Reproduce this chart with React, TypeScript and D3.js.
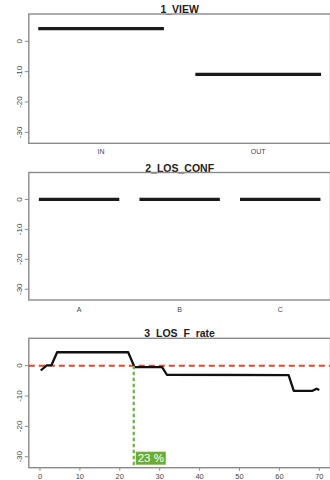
import React from "react";
import * as d3 from "d3";

const viewCategories = ["IN", "OUT"];
const viewValues = [4.2, -10.9];
const confCategories = ["A", "B", "C"];
const confValues = [0, 0, 0];
const rateX = [0.2, 1.7, 2.9, 4.3, 22.1, 23.7, 30.6, 31.8, 62.3, 63.6, 68.3, 69.3, 70.0];
const rateY = [-1.6, 0.1, 0.2, 4.4, 4.4, -0.5, -0.5, -3.0, -3.1, -8.3, -8.3, -7.6, -8.0];
const yTicks = [0, -10, -20, -30];
const rateXTicks = [0, 10, 20, 30, 40, 50, 60, 70];
const thresholdX = 23.5;
const thresholdLabel = "23 %";
const titles = ["1_VIEW", "2_LOS_CONF", "3_LOS_F_rate"];

const FONT = "'Liberation Sans', Arial, sans-serif";
const LEFT = 28.8;
const RIGHT = 330.5;
const Y_DOMAIN: [number, number] = [-33.6, 9];
const AXIS = "#8a8a8a";

function Frame({ top, bottom, title, y }: { top: number; bottom: number; title: string; y: d3.ScaleLinear<number, number> }) {
  return (
    <g>
      <text x={(LEFT + RIGHT) / 2} y={top - 1} textAnchor="middle" fontFamily={FONT} fontWeight="bold" fontSize={10.5} fill="#222">
        {title}
      </text>
      <rect x={LEFT} y={top} width={RIGHT - LEFT} height={bottom - top} fill="none" stroke={AXIS} strokeWidth={1.4} />
      {yTicks.map((t) => (
        <g key={t}>
          <line x1={LEFT - 4} x2={LEFT} y1={y(t)} y2={y(t)} stroke={AXIS} strokeWidth={1} />
          <text
            transform={`translate(${LEFT - 7},${y(t)}) rotate(-90)`}
            textAnchor="middle"
            fontFamily={FONT}
            fontSize={8}
            fill="#444"
          >
            {t}
          </text>
        </g>
      ))}
    </g>
  );
}

export default function App() {
  // Panel 1
  const p1Top = 14, p1Bottom = 143.3;
  const y1 = d3.scaleLinear().domain(Y_DOMAIN).range([p1Bottom, p1Top]);
  const x1 = d3.scaleLinear().domain([0.54, 2.46]).range([LEFT, RIGHT]);

  // Panel 2
  const p2Top = 172.5, p2Bottom = 300;
  const y2 = d3.scaleLinear().domain(Y_DOMAIN).range([p2Bottom, p2Top]);
  const x2 = d3.scaleLinear().domain([0.5, 3.5]).range([LEFT, RIGHT]);

  // Panel 3
  const p3Top = 338.3, p3Bottom = 467.7;
  const y3 = d3.scaleLinear().domain(Y_DOMAIN).range([p3Bottom, p3Top]);
  const x3 = d3.scaleLinear().domain([-2.8, 72.8]).range([LEFT, RIGHT]);
  const line = d3
    .line<number>()
    .x((_, i) => x3(rateX[i]))
    .y((d) => y3(d));
  const tx = x3(thresholdX);

  return (
    <svg width={330} height={480} style={{ position: "absolute", left: 0, top: 0, background: "#fff" }}>
      <rect width={330} height={480} fill="#fff" />
      {/* Panel 1 */}
      <Frame top={p1Top} bottom={p1Bottom} title={titles[0]} y={y1} />
      {viewCategories.map((c, i) => (
        <g key={c}>
          <line x1={x1(i + 1 - 0.4)} x2={x1(i + 1 + 0.4)} y1={y1(viewValues[i])} y2={y1(viewValues[i])} stroke="#1a1a1a" strokeWidth={3.2} />
          <text x={x1(i + 1)} y={p1Bottom + 11} textAnchor="middle" fontFamily={FONT} fontSize={7} fill="#444">
            {c}
          </text>
        </g>
      ))}

      {/* Panel 2 */}
      <Frame top={p2Top} bottom={p2Bottom} title={titles[1]} y={y2} />
      {confCategories.map((c, i) => (
        <g key={c}>
          <line x1={x2(i + 1 - 0.4)} x2={x2(i + 1 + 0.4)} y1={y2(confValues[i])} y2={y2(confValues[i])} stroke="#1a1a1a" strokeWidth={3.2} />
          <text x={x2(i + 1)} y={p2Bottom + 12} textAnchor="middle" fontFamily={FONT} fontSize={7} fill="#444">
            {c}
          </text>
        </g>
      ))}

      {/* Panel 3 */}
      <Frame top={p3Top} bottom={p3Bottom} title={titles[2]} y={y3} />
      {rateXTicks.map((t) => (
        <g key={t}>
          <line x1={x3(t)} x2={x3(t)} y1={p3Bottom} y2={p3Bottom + 3} stroke={AXIS} strokeWidth={1} />
          <text x={x3(t)} y={p3Bottom + 11} textAnchor="middle" fontFamily={FONT} fontSize={7.5} fill="#444">
            {t}
          </text>
        </g>
      ))}
      <line x1={LEFT} x2={RIGHT} y1={y3(0)} y2={y3(0)} stroke="#e4472a" strokeWidth={2} strokeDasharray="6,4" />
      <path d={line(rateY) || ""} fill="none" stroke="#111" strokeWidth={2.3} strokeLinejoin="round" />
      <line x1={tx} x2={tx} y1={y3(0)} y2={p3Bottom} stroke="#6cb33f" strokeWidth={2.2} strokeDasharray="3.5,2.5" />
      <rect x={tx + 2} y={p3Bottom - 16} width={30} height={13} fill="#6aae2f" />
      <text x={tx + 17} y={p3Bottom - 5.5} textAnchor="middle" fontFamily={FONT} fontSize={11.5} fill="#fff">
        {thresholdLabel}
      </text>
    </svg>
  );
}
